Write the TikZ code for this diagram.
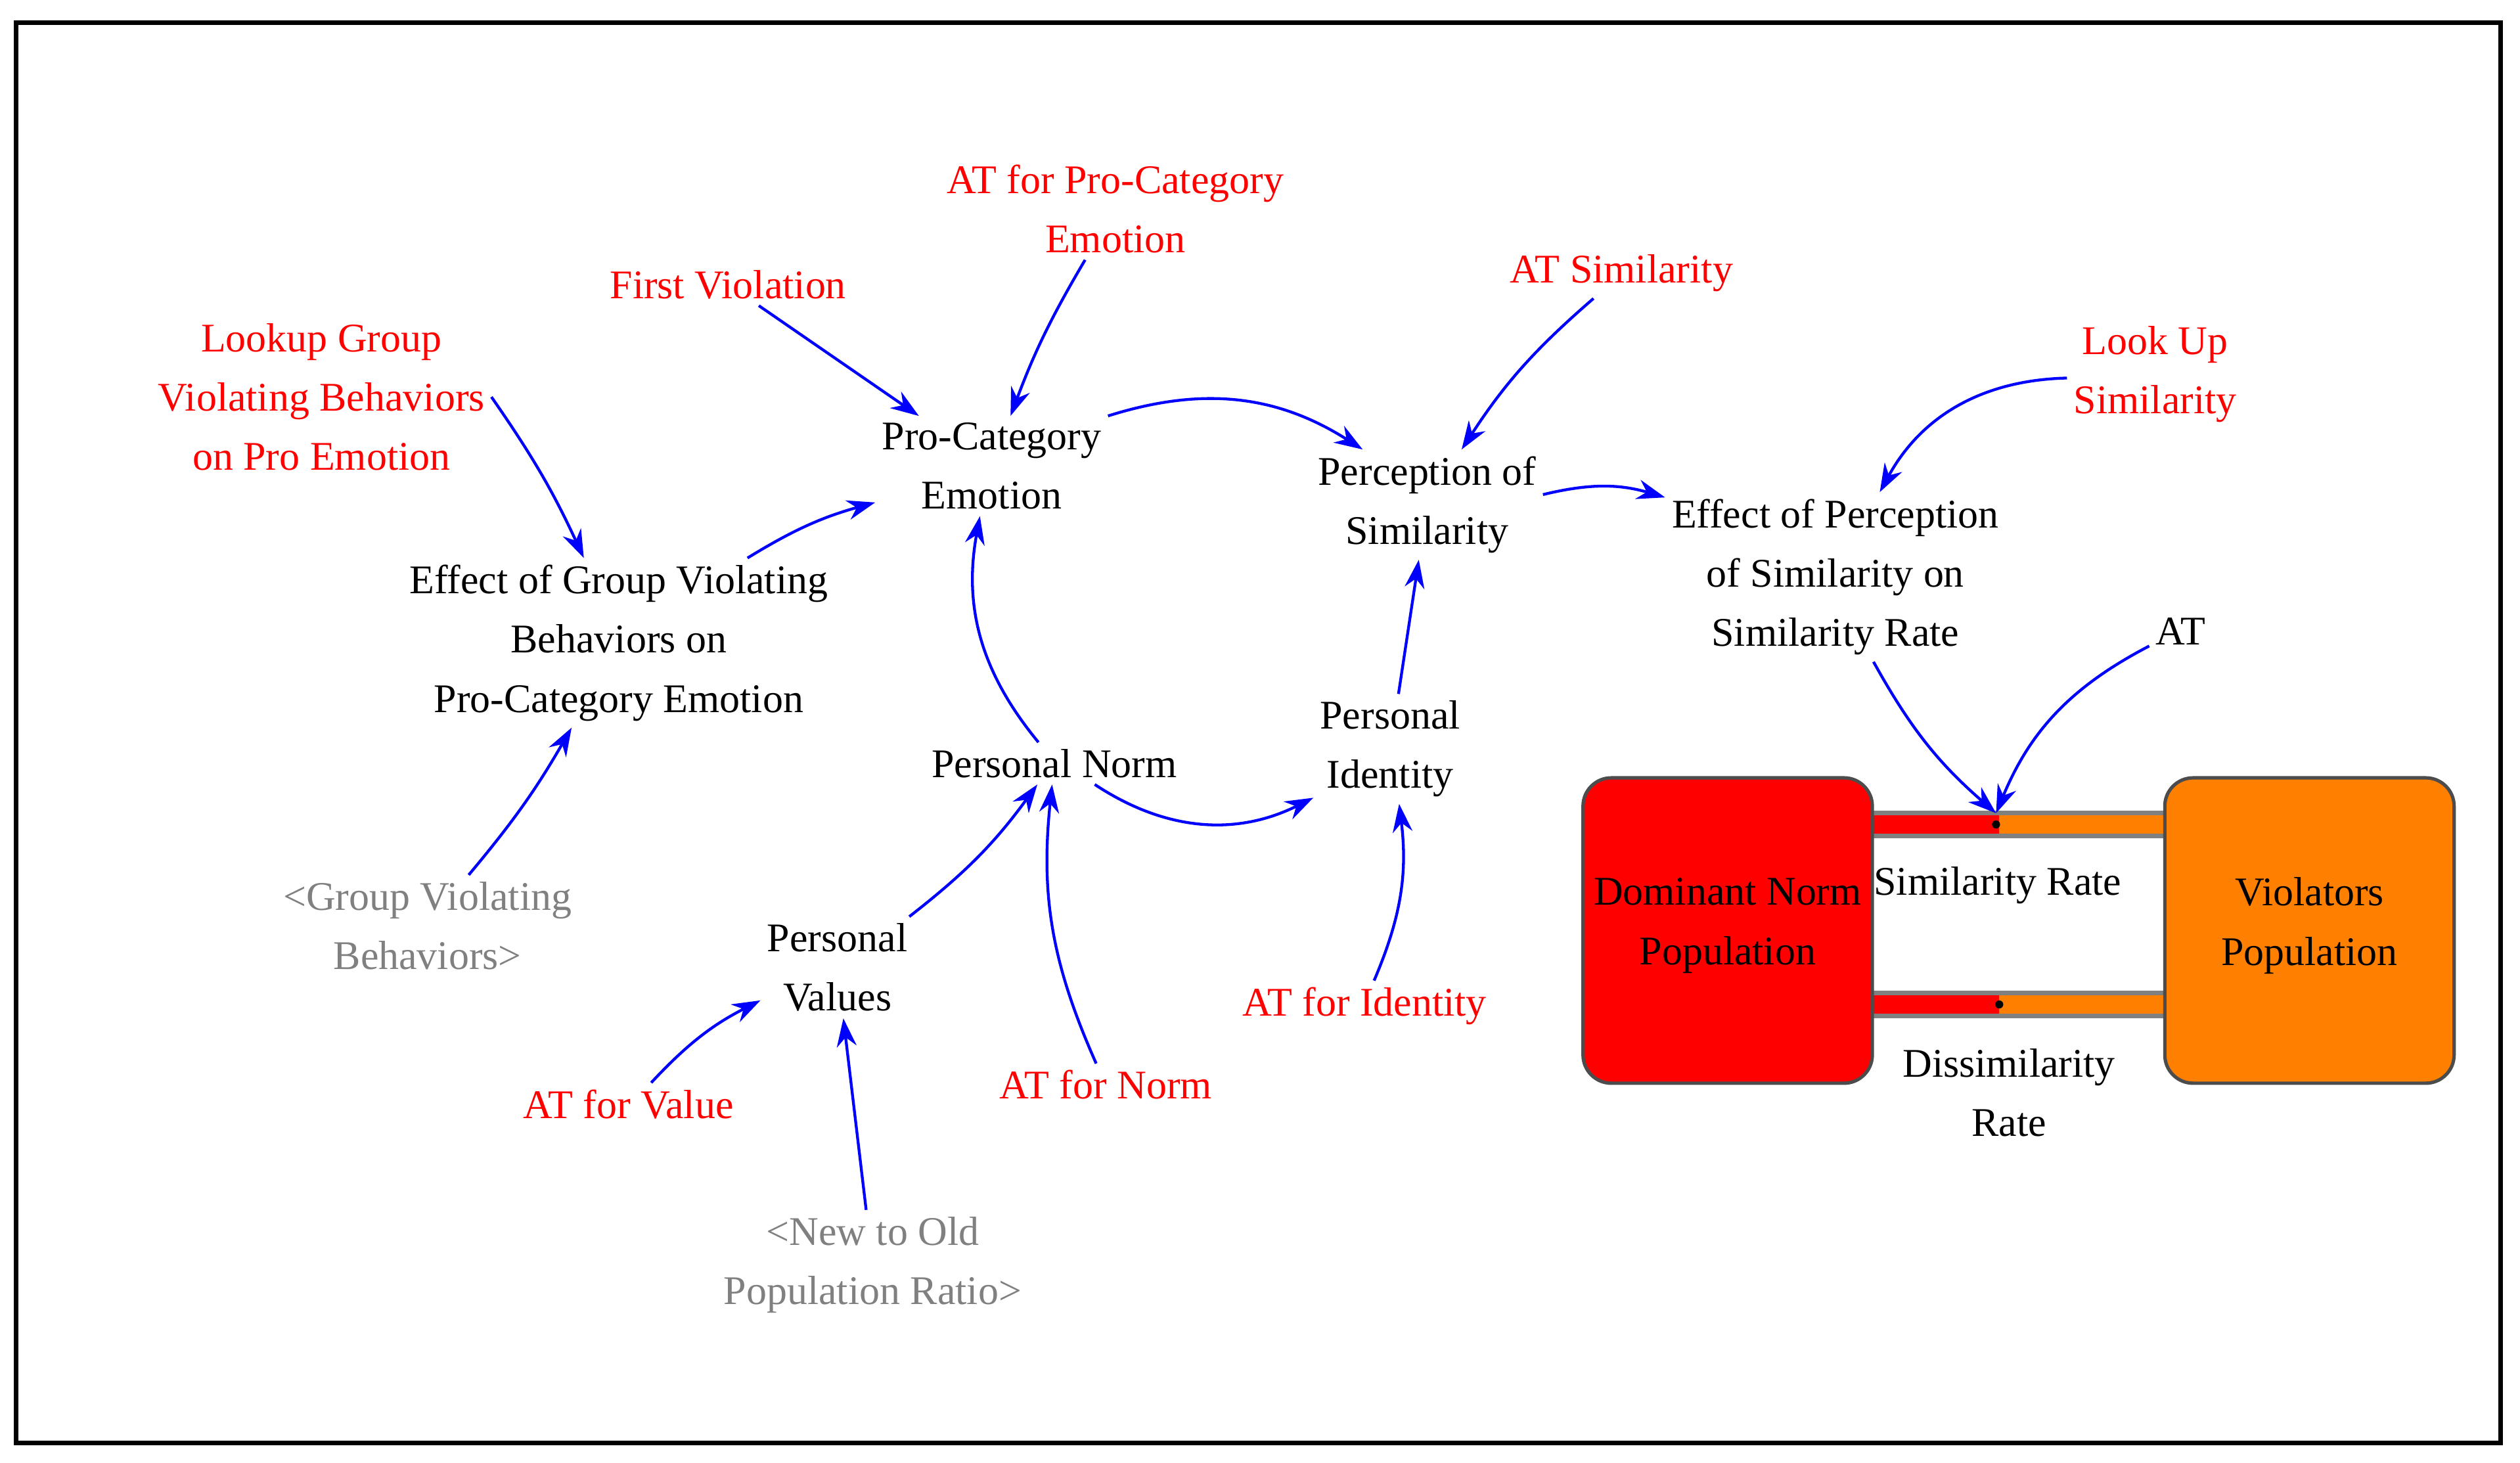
\documentclass[tikz,border=0pt]{standalone}
\usepackage{fontspec}
\setmainfont{Liberation Serif}
\usetikzlibrary{arrows.meta}
\begin{document}
\begin{tikzpicture}[x=0.01cm,y=-0.01cm,
  v/.style={align=center,font=\fontsize{7.2}{10.5}\selectfont,inner sep=1pt},
  r/.style={v,text=red},
  g/.style={v,text=gray},
  lk/.style={draw=blue,line width=0.5pt,-{Stealth[length=5pt,width=3.5pt]}},
  stock/.style={draw=black!70,line width=0.6pt,rounded corners=5pt}]
\useasboundingbox (0,0) rectangle (1568,910);
\draw[line width=0.8pt] (10,14) rectangle (1556,898);
% pipes
\fill[red] (1165,506) rectangle (1244,520);
\fill[orange] (1244,506) rectangle (1347,520);
\fill[red] (1165,618) rectangle (1244,632);
\fill[orange] (1244,618) rectangle (1347,632);
\draw[gray,line width=0.8pt] (1165,506) -- (1347,506) (1165,520) -- (1347,520) (1165,618) -- (1347,618) (1165,632) -- (1347,632);
% stocks
\draw[stock,fill=red] (985,484) rectangle (1165,674);
\draw[stock,fill=orange] (1347,484) rectangle (1527,674);
\node[v] (domt) at (1075,576) {Dominant Norm\\Population};
\node[v] (viot) at (1437,576) {Violators\\Population};
\fill (1242,513) circle (2.5);
\fill (1244,625) circle (2.5);
\coordinate (valve1) at (1242,506);
\node[v] (simr) at (1243,551) {Similarity Rate};
\node[v] (dissr) at (1250,680) {Dissimilarity\\Rate};
% variables
\node[r] (atpro) at (694,130) {AT for Pro-Category\\Emotion};
\node[r] (first) at (453,177) {First Violation};
\node[r] (atsim) at (1009,170) {AT Similarity};
\node[r] (lookg) at (200,247) {Lookup Group\\Violating Behaviors\\on Pro Emotion};
\node[r] (looks) at (1341,233) {Look Up\\Similarity};
\node[v] (pro) at (617,290) {Pro-Category\\Emotion};
\node[v] (perc) at (888,314) {Perception of\\Similarity};
\node[v] (effp) at (1142,359) {Effect of Perception\\of Similarity on\\Similarity Rate};
\node[v] (effg) at (385,400) {Effect of Group Violating\\Behaviors on\\Pro-Category Emotion};
\node[v] (at) at (1357,393) {AT};
\node[v] (pnorm) at (656,475) {Personal Norm};
\node[v] (pid) at (865,466) {Personal\\Identity};
\node[g] (gvb) at (266,576) {<Group Violating\\Behaviors>};
\node[v] (pval) at (521,602) {Personal\\Values};
\node[r] (atid) at (849,626) {AT for Identity};
\node[r] (atval) at (391,687) {AT for Value};
\node[r] (atnorm) at (688,675) {AT for Norm};
\node[g] (newold) at (543,787) {<New to Old\\Population Ratio>};
% links
\draw[lk] (first) -- (pro);
\draw[lk] (atpro) to[bend right=5] (pro);
\draw[lk] (lookg.east) to[bend left=5] (effg);
\draw[lk] (effg) to[bend left=8] (pro);
\draw[lk] (gvb) to[bend right=5] (effg);
\draw[lk] (pnorm) to[bend left=25] (pro);
\draw[lk] (pro.north east) to[bend left=25] (perc);
\draw[lk] (atsim) to[bend right=8] (perc);
\draw[lk] (perc) to[bend left=15] (effp);
\draw[lk] (looks) to[bend right=30] (effp);
\draw[lk] (pid) -- (perc);
\draw[lk] (pnorm) to[bend right=30] (pid);
\draw[lk] (pval) to[bend right=8] (pnorm);
\draw[lk] (atnorm) to[bend left=15] (pnorm);
\draw[lk] (atid) to[bend right=15] (pid);
\draw[lk] (atval) to[bend left=10] (pval);
\draw[lk] (newold) -- (pval);
\draw[lk] (effp) to[bend right=10] (valve1);
\draw[lk] (at) to[bend right=20] (valve1);
\end{tikzpicture}
\end{document}
